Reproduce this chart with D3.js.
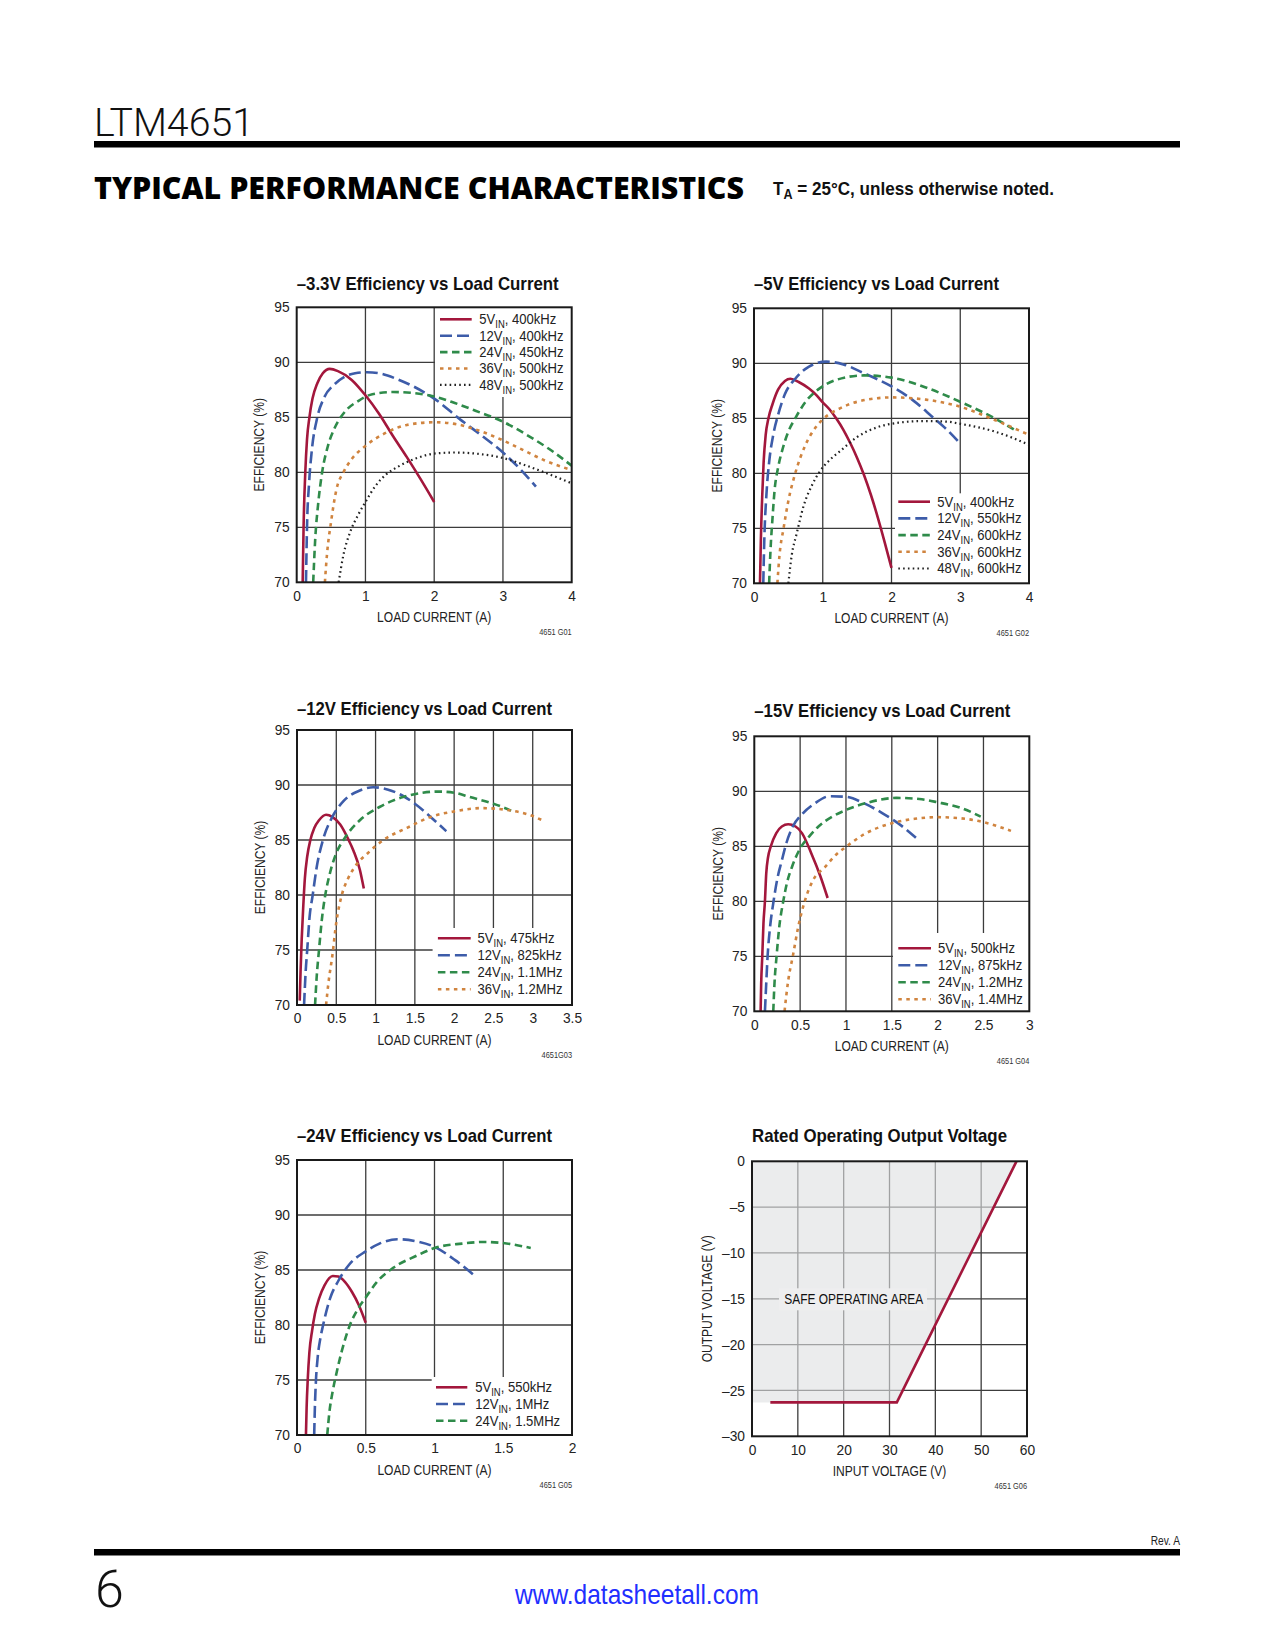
<!DOCTYPE html>
<html><head><meta charset="utf-8">
<script src="https://cdn.jsdelivr.net/npm/d3@7"></script>
<style>
body{margin:0;background:#fff}
</style></head><body>
<svg id="page" width="1275" height="1650" xmlns="http://www.w3.org/2000/svg"></svg>
<script>
// ---------------- DATA ----------------
const effTicks = [70, 75, 80, 85, 90, 95];

// Chart 1: -3.3V
const c1Title = "–3.3V Efficiency vs Load Current";
const c1XTicks = [0, 1, 2, 3, 4];
const c1Vin = ["5", "12", "24", "36", "48"];
const c1Freq = ["400kHz", "400kHz", "450kHz", "500kHz", "500kHz"];
const c1V5 = [[0.087,70],[0.10,75],[0.125,80],[0.15,83],[0.185,85],[0.23,86.7],[0.3,88.1],[0.38,89.0],[0.48,89.4],[0.6,89.2],[0.8,88.4],[1.0,87.0],[1.2,85.3],[1.4,83.3],[1.6,81.4],[1.8,79.4],[2.0,77.3]];
const c1V12 = [[0.135,70],[0.15,75],[0.18,79],[0.22,82],[0.3,85],[0.4,86.8],[0.55,88.0],[0.7,88.7],[0.85,89.0],[1.02,89.1],[1.2,89.0],[1.45,88.5],[1.7,87.8],[2.0,86.7],[2.4,84.7],[2.7,83.3],[3.0,81.8],[3.25,80.3],[3.48,78.7]];
const c1V24 = [[0.24,70],[0.27,74],[0.31,77],[0.37,80],[0.45,82.3],[0.55,84],[0.7,85.5],[0.9,86.5],[1.1,87.1],[1.4,87.3],[1.7,87.2],[2.0,86.9],[2.3,86.3],[2.6,85.6],[3.0,84.6],[3.4,83.2],[3.7,82.0],[4.0,80.6]];
const c1V36 = [[0.41,70],[0.44,72.5],[0.5,75.5],[0.58,78.5],[0.68,80],[0.8,81.2],[1.0,82.4],[1.3,83.6],[1.6,84.3],[2.0,84.55],[2.3,84.4],[2.6,83.9],[3.0,82.9],[3.3,82.0],[3.6,81.1],[4.0,80.2]];
const c1V48 = [[0.61,70],[0.68,72.5],[0.78,74.6],[0.9,76.2],[1.0,77.3],[1.15,78.8],[1.3,79.8],[1.5,80.6],[1.75,81.3],[2.0,81.7],[2.3,81.8],[2.6,81.7],[3.0,81.3],[3.3,80.7],[3.6,80.0],[4.0,79.0]];

// Chart 2: -5V
const c2Title = "–5V Efficiency vs Load Current";
const c2XTicks = [0, 1, 2, 3, 4];
const c2Vin = ["5", "12", "24", "36", "48"];
const c2Freq = ["400kHz", "550kHz", "600kHz", "600kHz", "600kHz"];
const c2V5 = [[0.087,70],[0.1,74],[0.12,78],[0.14,81],[0.17,83.5],[0.21,85],[0.27,86.3],[0.35,87.6],[0.45,88.4],[0.53,88.6],[0.65,88.3],[0.8,87.7],[0.9,87.15],[1.0,86.45],[1.1,85.8],[1.2,84.95],[1.3,83.95],[1.4,82.75],[1.5,81.4],[1.6,79.85],[1.7,78.05],[1.8,76.0],[1.9,73.75],[2.0,71.4]];
const c2V12 = [[0.135,70],[0.15,74],[0.18,78],[0.22,81],[0.28,83.5],[0.35,85.3],[0.45,87.2],[0.6,88.6],[0.8,89.7],[1.05,90.15],[1.3,89.9],[1.6,89.1],[2.0,87.9],[2.3,86.7],[2.6,85.1],[2.8,84.0],[3.0,82.7]];
const c2V24 = [[0.22,70],[0.24,73],[0.27,76],[0.3,78.5],[0.35,80.5],[0.42,82.3],[0.5,83.8],[0.6,85],[0.75,86.5],[0.95,87.7],[1.2,88.5],[1.6,88.9],[2.0,88.7],[2.5,87.8],[3.0,86.5],[3.5,85.0],[3.83,83.8]];
const c2V36 = [[0.34,70],[0.37,72.5],[0.43,75],[0.5,77.5],[0.6,80],[0.75,82.6],[0.9,84.2],[1.0,84.9],[1.25,85.9],[1.5,86.5],[2.0,86.9],[2.5,86.7],[3.0,86.05],[3.5,84.85],[4.0,83.5]];
const c2V48 = [[0.5,70],[0.55,72.6],[0.62,74.5],[0.72,77],[0.85,79],[0.96,80.2],[1.1,81.2],[1.25,82],[1.5,83.3],[1.8,84.2],[2.1,84.6],[2.45,84.75],[2.8,84.7],[3.0,84.5],[3.5,83.8],[4.0,82.6]];

// Chart 3: -12V
const c3Title = "–12V Efficiency vs Load Current";
const c3XTicks = [0, 0.5, 1, 1.5, 2, 2.5, 3, 3.5];
const c3Vin = ["5", "12", "24", "36"];
const c3Freq = ["475kHz", "825kHz", "1.1MHz", "1.2MHz"];
const c3V5 = [[0.035,70.4],[0.045,73],[0.06,76],[0.08,79],[0.1,81.5],[0.13,83.5],[0.17,85],[0.22,86.1],[0.28,86.8],[0.37,87.3],[0.45,87.1],[0.55,86.4],[0.65,85.1],[0.72,84.0],[0.8,82.3],[0.85,80.6]];
const c3V12 = [[0.09,70],[0.11,73],[0.13,75],[0.16,78],[0.2,80],[0.25,82.5],[0.33,85],[0.45,87.1],[0.6,88.6],[0.8,89.5],[0.97,89.8],[1.15,89.6],[1.35,89.0],[1.5,88.3],[1.7,87.1],[1.9,85.8]];
const c3V24 = [[0.23,70],[0.25,72.5],[0.28,75],[0.32,78],[0.36,80],[0.42,82],[0.5,83.8],[0.6,85.1],[0.8,86.8],[1.05,88],[1.35,88.9],[1.6,89.3],[1.8,89.4],[2.0,89.3],[2.2,88.9],[2.5,88.3],[2.75,87.6]];
const c3V36 = [[0.37,70],[0.4,72],[0.45,74.5],[0.5,77.5],[0.57,80],[0.65,81.5],[0.75,82.7],[0.9,83.8],[1.1,85],[1.4,86.1],[1.7,87.1],[2.0,87.6],[2.35,87.9],[2.7,87.7],[2.95,87.3],[3.15,86.7]];

// Chart 4: -15V
const c4Title = "–15V Efficiency vs Load Current";
const c4XTicks = [0, 0.5, 1, 1.5, 2, 2.5, 3];
const c4Vin = ["5", "12", "24", "36"];
const c4Freq = ["500kHz", "875kHz", "1.2MHz", "1.4MHz"];
const c4V5 = [[0.069,70],[0.075,72.5],[0.087,75],[0.1,78],[0.116,80],[0.13,82.5],[0.15,84],[0.18,85],[0.24,86.2],[0.3,86.8],[0.37,87.0],[0.45,86.8],[0.52,86.2],[0.62,84.4],[0.72,82.3],[0.8,80.3]];
const c4V12 = [[0.116,70],[0.13,72.5],[0.145,75],[0.17,77.5],[0.21,80],[0.25,82],[0.3,83.7],[0.35,85.3],[0.42,86.8],[0.53,88],[0.66,88.9],[0.82,89.55],[1.0,89.5],[1.2,88.9],[1.4,88],[1.6,86.9],[1.8,85.5]];
const c4V24 = [[0.207,70],[0.22,72.5],[0.243,75],[0.27,77.5],[0.316,80],[0.36,81.8],[0.41,83.1],[0.5,84.8],[0.6,85.9],[0.7,86.8],[0.85,87.7],[1.0,88.3],[1.25,89],[1.55,89.4],[1.8,89.3],[2.0,89],[2.25,88.5],[2.47,87.7]];
const c4V36 = [[0.33,70],[0.35,71.5],[0.37,72.8],[0.42,75],[0.48,77.7],[0.55,80],[0.64,81.9],[0.77,83.1],[0.9,84.3],[1.0,84.95],[1.2,86.1],[1.5,87.1],[1.75,87.5],[2.0,87.65],[2.3,87.5],[2.5,87.2],[2.8,86.4]];

// Chart 5: -24V
const c5Title = "–24V Efficiency vs Load Current";
const c5XTicks = [0, 0.5, 1, 1.5, 2];
const c5Vin = ["5", "12", "24"];
const c5Freq = ["550kHz", "1MHz", "1.5MHz"];
const c5V5 = [[0.065,70],[0.07,72.5],[0.078,75],[0.09,77.5],[0.11,79.5],[0.13,81],[0.16,82.4],[0.2,83.6],[0.26,84.45],[0.3,84.4],[0.35,83.9],[0.4,83.0],[0.45,81.8],[0.5,80.2]];
const c5V12 = [[0.125,70],[0.13,72.5],[0.138,75],[0.15,77],[0.17,78.8],[0.19,80],[0.24,82.4],[0.3,84],[0.38,85.5],[0.5,86.7],[0.6,87.4],[0.73,87.8],[0.87,87.6],[1.0,87.1],[1.15,85.9],[1.3,84.4]];
const c5V24 = [[0.22,70],[0.235,72],[0.26,74],[0.285,75.5],[0.325,77.6],[0.385,80],[0.44,81.4],[0.5,82.5],[0.58,83.9],[0.7,85.2],[0.87,86.3],[1.0,87],[1.2,87.4],[1.36,87.55],[1.5,87.45],[1.7,87.0]];

// Chart 6: Rated operating output voltage
const c6Title = "Rated Operating Output Voltage";
const c6XTicks = [0, 10, 20, 30, 40, 50, 60];
const c6YTicks = [0, -5, -10, -15, -20, -25, -30];
const c6Vin = [4, 31.6, 57.7];
const c6Vout = [-26.3, -26.3, 0];

// ---------------- DRAWING ----------------
const svg = d3.select('#page');
const W = 275, H = 275;
const SANS = "'Liberation Sans',Arial,Helvetica,sans-serif";
const GRID = '#3c3c3c';

const seriesStyle = [
  {color:'#a3173c', dash:null, width:2.6},
  {color:'#3d5ca9', dash:'12,5', width:2.6},
  {color:'#2f8b4a', dash:'7.5,4.5', width:2.6},
  {color:'#d0843f', dash:'3.5,4.5', width:2.6},
  {color:'#222222', dash:'1.6,3.2', width:2.2}
];

// squeeze text horizontally to imitate the condensed face of the original
function cond(sel, f) {
  sel.each(function () {
    const L = this.getComputedTextLength();
    this.setAttribute('textLength', (L * f).toFixed(2));
    this.setAttribute('lengthAdjust', 'spacingAndGlyphs');
  });
  return sel;
}
function fixLen(sel, L) {
  sel.attr('textLength', L).attr('lengthAdjust', 'spacingAndGlyphs');
  return sel;
}

let clipId = 0;

function styleAxis(ag, size) {
  ag.attr('font-size', null).attr('font-family', null);
  ag.select('.domain').remove();
  cond(ag.selectAll('text').attr('font-size', size).attr('font-family', SANS).attr('fill', '#222'), 0.95);
}

function grid(g, x, y, xTicks, yTicks) {
  g.append('g').selectAll('line').data(xTicks.slice(1, -1)).join('line')
    .attr('x1', d => x(d)).attr('x2', d => x(d)).attr('y1', 0).attr('y2', H)
    .attr('stroke', GRID).attr('stroke-width', 1.3);
  g.append('g').selectAll('line').data(yTicks.slice(1, -1)).join('line')
    .attr('y1', d => y(d)).attr('y2', d => y(d)).attr('x1', 0).attr('x2', W)
    .attr('stroke', GRID).attr('stroke-width', 1.3);
}

function titles(g, cfg) {
  fixLen(g.append('text').attr('x', cfg.titleDx || 0).attr('y', cfg.titleDy)
    .attr('font-family', SANS).attr('font-weight', 'bold').attr('font-size', 19)
    .attr('fill', '#111').text(cfg.title), cfg.titleLen);
  cond(g.append('text').attr('transform', `translate(${cfg.yTitleX},${H/2}) rotate(-90)`)
    .attr('text-anchor', 'middle').attr('dy', '0.35em')
    .attr('font-family', SANS).attr('font-size', 14.5).attr('fill', '#222').text(cfg.yTitle), 0.83);
  cond(g.append('text').attr('x', W/2).attr('y', H + 40).attr('text-anchor', 'middle')
    .attr('font-family', SANS).attr('font-size', 14.5).attr('fill', '#222').text(cfg.xTitle), 0.83);
  cond(g.append('text').attr('x', W).attr('y', H + 53).attr('text-anchor', 'end')
    .attr('font-family', SANS).attr('font-size', 9).attr('fill', '#333').text(cfg.note), 0.82);
}

function effChart(cfg) {
  const g = svg.append('g').attr('transform', `translate(${cfg.left},${cfg.top})`);
  const x = d3.scaleLinear().domain([0, cfg.xTicks[cfg.xTicks.length - 1]]).range([0, W]);
  const y = d3.scaleLinear().domain([70, 95]).range([H, 0]);

  grid(g, x, y, cfg.xTicks, effTicks);

  const L = cfg.legend;
  g.append('rect').attr('x', L.rx).attr('y', L.ry).attr('width', W - L.rx).attr('height', L.rh)
    .attr('fill', '#fff');

  const id = 'clip' + (clipId++);
  g.append('clipPath').attr('id', id).append('rect').attr('width', W).attr('height', H);
  const line = d3.line().x(d => x(d[0])).y(d => y(d[1])).curve(d3.curveMonotoneX);
  cfg.series.forEach((s, i) => {
    const st = seriesStyle[i];
    g.append('path').attr('d', line(s)).attr('fill', 'none')
      .attr('clip-path', `url(#${id})`)
      .attr('stroke', st.color).attr('stroke-width', st.width)
      .attr('stroke-dasharray', st.dash);
  });

  g.append('rect').attr('width', W).attr('height', H).attr('fill', 'none')
    .attr('stroke', '#1a1a1a').attr('stroke-width', 2);

  const ax = g.append('g').attr('transform', `translate(0,${H})`)
    .call(d3.axisBottom(x).tickValues(cfg.xTicks).tickSize(0).tickPadding(8).tickFormat(d => String(d)));
  styleAxis(ax, 14.5);
  const ay = g.append('g')
    .call(d3.axisLeft(y).tickValues(effTicks).tickSize(0).tickPadding(7).tickFormat(d => String(d)));
  styleAxis(ay, 14.5);

  cfg.vin.forEach((v, i) => {
    const st = seriesStyle[i];
    const yy = L.y0 + i * L.step;
    g.append('line').attr('x1', L.lx0).attr('x2', L.lx1).attr('y1', yy).attr('y2', yy)
      .attr('stroke', st.color).attr('stroke-width', st.width).attr('stroke-dasharray', st.dash);
    const t = g.append('text').attr('x', L.tx).attr('y', yy + 5)
      .attr('font-family', SANS).attr('font-size', 14.5).attr('fill', '#222');
    t.append('tspan').text(v + 'V');
    t.append('tspan').attr('font-size', 10.5).attr('dy', 4).text('IN');
    t.append('tspan').attr('dy', -4).text(', ' + cfg.freq[i]);
    cond(t, 0.9);
  });

  titles(g, Object.assign({yTitle: 'EFFICIENCY (%)', xTitle: 'LOAD CURRENT (A)'}, cfg));
}

effChart({left: 296.7, top: 307.3, xTicks: c1XTicks, title: c1Title, titleDy: -17, titleLen: 262, yTitleX: -37.4,
  series: [c1V5, c1V12, c1V24, c1V36, c1V48], vin: c1Vin, freq: c1Freq, note: '4651 G01',
  legend: {rx: 138.3, ry: 0, rh: 89.7, lx0: 143.3, lx1: 175, tx: 182.6, y0: 12, step: 16.4}});

effChart({left: 754, top: 308.3, xTicks: c2XTicks, title: c2Title, titleDy: -18, titleLen: 245, yTitleX: -37.3,
  series: [c2V5, c2V12, c2V24, c2V36, c2V48], vin: c2Vin, freq: c2Freq, note: '4651 G02',
  legend: {rx: 141, ry: 185, rh: 90, lx0: 144.3, lx1: 176, tx: 183.3, y0: 193.4, step: 16.7}});

effChart({left: 297, top: 730, xTicks: c3XTicks, title: c3Title, titleDy: -15, titleLen: 255, yTitleX: -37,
  series: [c3V5, c3V12, c3V24, c3V36], vin: c3Vin, freq: c3Freq, note: '4651G03',
  legend: {rx: 135.6, ry: 198, rh: 77, lx0: 140.9, lx1: 173.7, tx: 180.6, y0: 208.3, step: 17}});

effChart({left: 754.3, top: 736.3, xTicks: c4XTicks, title: c4Title, titleDy: -19.6, titleLen: 256, yTitleX: -36,
  series: [c4V5, c4V12, c4V24, c4V36], vin: c4Vin, freq: c4Freq, note: '4651 G04',
  legend: {rx: 138.7, ry: 196.7, rh: 78.3, lx0: 144, lx1: 176.7, tx: 183.7, y0: 212, step: 17}});

effChart({left: 297, top: 1160, xTicks: c5XTicks, title: c5Title, titleDy: -18, titleLen: 255, yTitleX: -37,
  series: [c5V5, c5V12, c5V24], vin: c5Vin, freq: c5Freq, note: '4651 G05',
  legend: {rx: 134.7, ry: 217, rh: 58, lx0: 139, lx1: 170.3, tx: 178.2, y0: 227.3, step: 16.7}});

// Chart 6
(function () {
  const g = svg.append('g').attr('transform', 'translate(752,1161.3)');
  const x = d3.scaleLinear().domain([0, 60]).range([0, W]);
  const y = d3.scaleLinear().domain([-30, 0]).range([H, 0]);
  grid(g, x, y, c6XTicks, c6YTicks.slice().reverse());

  const pts = c6Vin.map((v, i) => [v, c6Vout[i]]);
  const poly = [[0, 0], pts[2], pts[1], [0, pts[0][1]]];
  g.append('path').attr('d', 'M' + poly.map(p => [x(p[0]), y(p[1])].join(',')).join('L') + 'Z')
    .attr('fill', 'rgb(222,224,226)').attr('fill-opacity', 0.62);

  g.append('rect').attr('x', 27).attr('y', y(-15) - 10.5).attr('width', 148).attr('height', 22)
    .attr('fill', '#eeeeef');
  fixLen(g.append('text').attr('x', x(22.2)).attr('y', y(-15)).attr('dy', '0.36em').attr('text-anchor', 'middle')
    .attr('font-family', SANS).attr('font-size', 15).attr('fill', '#111').text('SAFE OPERATING AREA'), 139);

  const line = d3.line().x(d => x(d[0])).y(d => y(d[1]));
  g.append('path').attr('d', line(pts)).attr('fill', 'none').attr('stroke', '#a3173c').attr('stroke-width', 2.6);

  g.append('rect').attr('width', W).attr('height', H).attr('fill', 'none')
    .attr('stroke', '#1a1a1a').attr('stroke-width', 2);

  const ax = g.append('g').attr('transform', `translate(0,${H})`)
    .call(d3.axisBottom(x).tickValues(c6XTicks).tickSize(0).tickPadding(8).tickFormat(d => String(d)));
  styleAxis(ax, 14.5);
  const ay = g.append('g')
    .call(d3.axisLeft(y).tickValues(c6YTicks).tickSize(0).tickPadding(7)
      .tickFormat(d => d === 0 ? '0' : '–' + Math.abs(d)));
  styleAxis(ay, 14.5);

  titles(g, {title: c6Title, titleDy: -19.3, titleLen: 255, yTitleX: -45.3, yTitle: 'OUTPUT VOLTAGE (V)',
    xTitle: 'INPUT VOLTAGE (V)', note: '4651 G06'});
})();

// ---------------- PAGE HEADER / FOOTER ----------------
svg.append('text').attr('x', 94).attr('y', 136).attr('font-family', "Roboto,'Liberation Sans',sans-serif")
  .attr('font-weight', 300).attr('font-size', 38).attr('fill', '#111')
  .attr('textLength', 160).attr('lengthAdjust', 'spacingAndGlyphs').text('LTM4651');
svg.append('rect').attr('x', 94).attr('y', 141).attr('width', 1086).attr('height', 6.5).attr('fill', '#000');

fixLen(svg.append('text').attr('x', 94).attr('y', 199).attr('font-family', "'Open Sans','DejaVu Sans',sans-serif")
  .attr('font-weight', 800).attr('font-size', 30).attr('fill', '#000')
  .text('TYPICAL PERFORMANCE CHARACTERISTICS'), 650);

const ta = svg.append('text').attr('x', 773).attr('y', 195).attr('font-family', SANS)
  .attr('font-weight', 'bold').attr('font-size', 19).attr('fill', '#111');
ta.append('tspan').text('T');
ta.append('tspan').attr('font-size', 14).attr('dy', 4).text('A');
ta.append('tspan').attr('dy', -4).text(' = 25°C, unless otherwise noted.');
fixLen(ta, 281);

cond(svg.append('text').attr('x', 1180).attr('y', 1545).attr('text-anchor', 'end').attr('font-family', SANS)
  .attr('font-size', 12).attr('fill', '#222').text('Rev. A'), 0.85);
svg.append('rect').attr('x', 94).attr('y', 1549).attr('width', 1086).attr('height', 6.5).attr('fill', '#000');
svg.append('text').attr('x', 95).attr('y', 1607).attr('font-family', "Roboto,'Liberation Sans',sans-serif")
  .attr('font-weight', 300).attr('font-size', 52).attr('fill', '#111').text('6');
fixLen(svg.append('text').attr('x', 637).attr('y', 1604).attr('text-anchor', 'middle').attr('font-family', SANS)
  .attr('font-size', 28).attr('fill', '#1f2fff').text('www.datasheetall.com'), 244);
</script>
</body></html>
